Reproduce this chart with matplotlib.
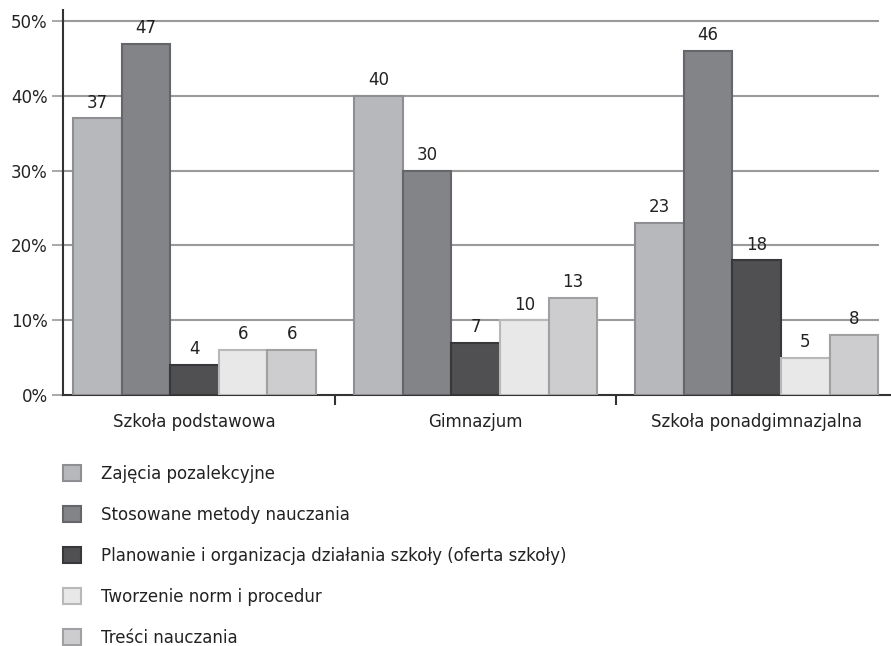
import numpy as np
import matplotlib
matplotlib.use("Agg")
import matplotlib.pyplot as plt
from matplotlib.patches import Patch

plt.rcParams['font.family'] = ['DejaVu Sans']

categories = ['Szkoła podstawowa', 'Gimnazjum', 'Szkoła ponadgimnazjalna']
series_names = ['Zajęcia pozalekcyjne',
                'Stosowane metody nauczania',
                'Planowanie i organizacja działania szkoły (oferta szkoły)',
                'Tworzenie norm i procedur',
                'Treści nauczania']
zajecia = [37, 40, 23]
metody = [47, 30, 46]
planowanie = [4, 7, 18]
normy = [6, 10, 5]
tresci = [6, 13, 8]
values = [zajecia, metody, planowanie, normy, tresci]

fills = ['#b7b8bc', '#838488', '#505052', '#e8e8e9', '#cdcdcf']
edges = ['#8e8f93', '#65666a', '#38383a', '#b8b8ba', '#a0a0a3']
fs = 12

fig = plt.figure(figsize=(8.91, 6.46), dpi=100)
ax = fig.add_axes([63 / 891, 1 - 395 / 646, 828 / 891, 385 / 646])

x = np.arange(len(categories))
width = 0.173
for i, (vals, fc, ec) in enumerate(zip(values, fills, edges)):
    pos = x + (i - 2) * width
    bars = ax.bar(pos, vals, width, color=fc, edgecolor=ec, linewidth=1.5, zorder=3)
    for b, v in zip(bars, vals):
        ax.text(b.get_x() + b.get_width() / 2, v + 0.9, str(v),
                ha='center', va='bottom', fontsize=fs, color='#222222', zorder=4)

ax.set_xlim(-0.468, 2.478)
ax.set_ylim(0, 51.5)

# gridlines
for yv in range(10, 60, 10):
    ax.hlines(yv, -0.468, 2.435, color='#9a9a9a', linewidth=1.5, zorder=1)

ax.set_yticks(range(0, 60, 10))
ax.set_yticklabels([f'{v}%' for v in range(0, 60, 10)], fontsize=fs, color='#222222')
ax.tick_params(axis='y', direction='out', length=8, width=1.2, color='#9a9a9a', pad=3)

ax.set_xticks([0.5, 1.5])
ax.set_xticklabels([])
ax.tick_params(axis='x', direction='out', length=7, width=1.5, color='#333333')
for xi, cat in zip(x, categories):
    ax.text(xi, -3.6, cat, ha='center', va='center', fontsize=fs, color='#222222')

for s in ['top', 'right']:
    ax.spines[s].set_visible(False)
for s in ['left', 'bottom']:
    ax.spines[s].set_color('#333333')
    ax.spines[s].set_linewidth(1.5)

handles = [Patch(facecolor=fc, edgecolor=ec, linewidth=1.5) for fc, ec in zip(fills, edges)]
fig.legend(handles, series_names, loc='upper left', bbox_to_anchor=(48 / 891, 1 - 450 / 646),
           frameon=False, fontsize=fs, handlelength=1.1, handleheight=1.1,
           handletextpad=1.2, labelspacing=1.38, labelcolor='#222222')

fig.savefig('out.png', dpi=100)
